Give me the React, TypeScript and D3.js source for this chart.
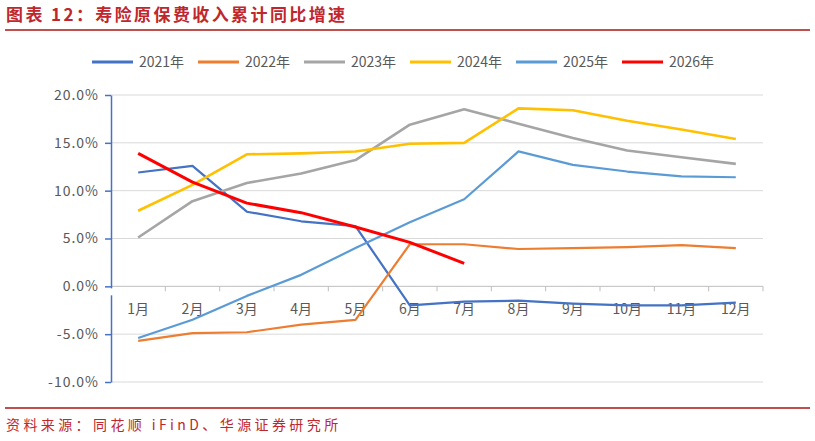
import React, { useEffect, useRef } from 'react';
import * as d3 from 'd3';

const months = ['1月', '2月', '3月', '4月', '5月', '6月', '7月', '8月', '9月', '10月', '11月', '12月'];

const yearNames = ['2021年', '2022年', '2023年', '2024年', '2025年', '2026年'];
const yearColors = ['#4472C4', '#ED7D31', '#A5A5A5', '#FFC000', '#5B9BD5', '#FF0000'];
const yearWidths = [2.2, 2.2, 2.6, 2.6, 2.2, 3];

const y2021 = [11.9, 12.6, 7.8, 6.8, 6.3, -2.0, -1.6, -1.5, -1.8, -2.0, -2.0, -1.7];
const y2022 = [-5.7, -4.9, -4.8, -4.0, -3.5, 4.4, 4.4, 3.9, 4.0, 4.1, 4.3, 4.0];
const y2023 = [5.1, 8.9, 10.8, 11.8, 13.2, 16.9, 18.5, 17.0, 15.5, 14.2, 13.5, 12.8];
const y2024 = [7.9, 10.6, 13.8, 13.9, 14.1, 14.9, 15.0, 18.6, 18.4, 17.3, 16.4, 15.4];
const y2025 = [-5.4, -3.5, -1.0, 1.2, 4.0, 6.7, 9.1, 14.1, 12.7, 12.0, 11.5, 11.4];
const y2026 = [13.9, 10.9, 8.7, 7.7, 6.2, 4.6, 2.4];

const yTicks = [-10, -5, 0, 5, 10, 15, 20];

const FONT = '"Noto Sans CJK SC", "Noto Sans", sans-serif';

const App: React.FC = () => {
  const svgRef = useRef<SVGSVGElement>(null);

  useEffect(() => {
    if (!svgRef.current) return;
    const svg = d3.select(svgRef.current);
    svg.selectAll('*').remove();

    const width = 815;
    const height = 441;
    const left = 111;
    const right = 763;
    const top = 95;
    const bottom = 382;

    svg.append('rect').attr('width', width).attr('height', height).attr('fill', '#fff');

    // Title and rules
    svg.append('text')
      .attr('x', 6)
      .attr('y', 21)
      .attr('font-family', FONT)
      .attr('font-size', 17)
      .attr('font-weight', 'bold')
      .attr('letter-spacing', 2.4)
      .attr('fill', '#C0272D')
      .text('图表 12：寿险原保费收入累计同比增速');

    svg.append('line')
      .attr('x1', 5).attr('x2', 810)
      .attr('y1', 30).attr('y2', 30)
      .attr('stroke', '#C0504D')
      .attr('stroke-width', 2);

    svg.append('line')
      .attr('x1', 5).attr('x2', 810)
      .attr('y1', 408).attr('y2', 408)
      .attr('stroke', '#C0504D')
      .attr('stroke-width', 2);

    svg.append('text')
      .attr('x', 6)
      .attr('y', 430)
      .attr('font-family', FONT)
      .attr('font-size', 14)
      .attr('letter-spacing', 3.4)
      .attr('fill', '#C0272D')
      .text('资料来源：同花顺 iFinD、华源证券研究所');

    // Scales
    const x = d3.scaleBand<string>().domain(months).range([left, right]);
    const y = d3.scaleLinear().domain([-10, 20]).range([bottom, top]);
    const cx = (m: string) => (x(m) ?? 0) + x.bandwidth() / 2;

    // Grid lines
    svg.append('g')
      .selectAll('line')
      .data(yTicks.filter(t => t !== 0))
      .join('line')
      .attr('x1', left).attr('x2', right)
      .attr('y1', d => y(d)).attr('y2', d => y(d))
      .attr('stroke', '#D9D9D9')
      .attr('stroke-width', 1);

    // X axis at 0
    const xAxis = svg.append('g');
    xAxis.append('line')
      .attr('x1', left).attr('x2', right)
      .attr('y1', y(0)).attr('y2', y(0))
      .attr('stroke', '#BFBFBF')
      .attr('stroke-width', 1);
    xAxis.selectAll('line.tick')
      .data(months)
      .join('line')
      .attr('class', 'tick')
      .attr('x1', d => (x(d) ?? 0) + x.bandwidth())
      .attr('x2', d => (x(d) ?? 0) + x.bandwidth())
      .attr('y1', y(0)).attr('y2', y(0) + 5)
      .attr('stroke', '#BFBFBF');
    xAxis.selectAll('text')
      .data(months)
      .join('text')
      .attr('x', d => cx(d))
      .attr('y', y(0) + 28)
      .attr('text-anchor', 'middle')
      .attr('font-family', FONT)
      .attr('font-size', 14)
      .attr('fill', '#595959')
      .text(d => d);

    // Y axis
    const yAxis = svg.append('g')
      .attr('transform', `translate(${left},0)`)
      .call(d3.axisLeft(y).tickValues(yTicks).tickSize(6).tickSizeOuter(0).tickFormat(d => `${(+d).toFixed(1)}%`));
    yAxis.select('.domain').attr('stroke', '#4472C4').attr('stroke-width', 1.5);
    yAxis.selectAll('.tick line').attr('stroke', '#4472C4').attr('stroke-width', 1.5);
    yAxis.selectAll('.tick text')
      .attr('font-family', FONT)
      .attr('font-size', 14)
      .attr('letter-spacing', 1)
      .attr('fill', '#595959')
      .attr('x', -12);
    svg.append('rect')
      .attr('x', left - 2).attr('y', y(0) + 2)
      .attr('width', 4).attr('height', 7)
      .attr('fill', '#fff');

    // Series
    const series = [y2021, y2022, y2023, y2024, y2025, y2026];
    const line = d3.line<number>()
      .x((_, i) => cx(months[i]))
      .y(d => y(d));

    series.forEach((vals, i) => {
      svg.append('path')
        .datum(vals)
        .attr('d', line)
        .attr('fill', 'none')
        .attr('stroke', yearColors[i])
        .attr('stroke-width', yearWidths[i])
        .attr('stroke-linejoin', 'round');
    });

    // Legend
    const legend = svg.append('g').attr('transform', 'translate(92,62)');
    yearNames.forEach((name, i) => {
      const g = legend.append('g').attr('transform', `translate(${i * 106},0)`);
      g.append('line')
        .attr('x1', 0).attr('x2', 41)
        .attr('y1', 0).attr('y2', 0)
        .attr('stroke', yearColors[i])
        .attr('stroke-width', 3);
      g.append('text')
        .attr('x', 47)
        .attr('y', 5)
        .attr('font-family', FONT)
        .attr('font-size', 14)
        .attr('fill', '#595959')
        .text(name);
    });
  }, []);

  return (
    <svg ref={svgRef} width={815} height={441} style={{ position: 'absolute', left: 0, top: 0 }} />
  );
};

export default App;
